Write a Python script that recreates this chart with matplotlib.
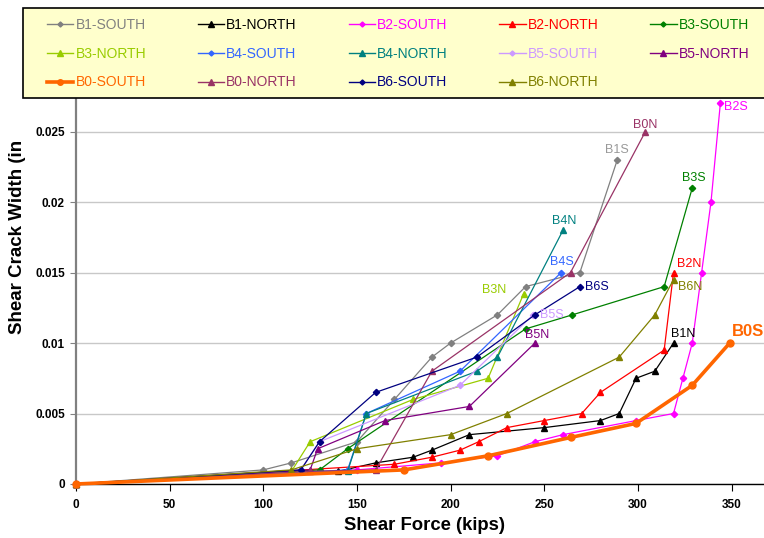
import matplotlib
matplotlib.use("Agg")
import matplotlib.pyplot as plt
from matplotlib.patches import Rectangle

plt.rcParams['font.family'] = ['Liberation Sans', 'DejaVu Sans']

# shear force (kips) and crack width (in) per beam face
b1s_x = [0, 100, 115, 150, 170, 190, 200, 225, 240, 269, 289]
b1s_y = [0, 0.001, 0.0015, 0.003, 0.006, 0.009, 0.010, 0.012, 0.014, 0.015, 0.023]
b1n_x = [0, 140, 160, 180, 190, 210, 250, 280, 290, 299, 309, 319]
b1n_y = [0, 0.0009, 0.0015, 0.0019, 0.0024, 0.0035, 0.0040, 0.0045, 0.0050, 0.0075, 0.0080, 0.0100]
b2s_x = [0, 150, 195, 225, 245, 260, 299, 319, 324, 329, 334, 339, 344]
b2s_y = [0, 0.001, 0.0015, 0.002, 0.003, 0.0035, 0.0045, 0.005, 0.0075, 0.010, 0.015, 0.020, 0.027]
b2n_x = [0, 170, 190, 205, 215, 230, 250, 270, 280, 314, 319]
b2n_y = [0, 0.0014, 0.0019, 0.0024, 0.003, 0.004, 0.0045, 0.005, 0.0065, 0.0095, 0.015]
b3s_x = [0, 130, 145, 240, 265, 314, 329]
b3s_y = [0, 0.001, 0.0025, 0.011, 0.012, 0.014, 0.021]
b3n_x = [0, 115, 125, 180, 220, 239]
b3n_y = [0, 0.0009, 0.003, 0.006, 0.0075, 0.0135]
b4s_x = [0, 145, 155, 205, 259]
b4s_y = [0, 0.001, 0.005, 0.008, 0.015]
b4n_x = [0, 145, 155, 214, 225, 260]
b4n_y = [0, 0.0009, 0.005, 0.008, 0.009, 0.018]
b5s_x = [0, 120, 130, 205, 244]
b5s_y = [0, 0.001, 0.003, 0.007, 0.012]
b5n_x = [0, 125, 129, 165, 210, 245]
b5n_y = [0, 0.001, 0.0025, 0.0045, 0.0055, 0.010]
b0s_x = [0, 175, 220, 264, 299, 329, 349]
b0s_y = [0, 0.001, 0.002, 0.0033, 0.0043, 0.007, 0.010]
b0n_x = [0, 125, 160, 190, 264, 304]
b0n_y = [0, 0.0009, 0.001, 0.008, 0.015, 0.025]
b6s_x = [0, 120, 130, 160, 214, 245, 269]
b6s_y = [0, 0.001, 0.003, 0.0065, 0.009, 0.012, 0.014]
b6n_x = [0, 115, 150, 200, 230, 290, 309, 319]
b6n_y = [0, 0.001, 0.0025, 0.0035, 0.005, 0.009, 0.012, 0.0145]

names = ['B1-SOUTH', 'B1-NORTH', 'B2-SOUTH', 'B2-NORTH', 'B3-SOUTH',
         'B3-NORTH', 'B4-SOUTH', 'B4-NORTH', 'B5-SOUTH', 'B5-NORTH',
         'B0-SOUTH', 'B0-NORTH', 'B6-SOUTH', 'B6-NORTH']
short = ['B1S', 'B1N', 'B2S', 'B2N', 'B3S', 'B3N', 'B4S', 'B4N', 'B5S', 'B5N',
         'B0S', 'B0N', 'B6S', 'B6N']
xs = [b1s_x, b1n_x, b2s_x, b2n_x, b3s_x, b3n_x, b4s_x, b4n_x, b5s_x, b5n_x,
      b0s_x, b0n_x, b6s_x, b6n_x]
ys = [b1s_y, b1n_y, b2s_y, b2n_y, b3s_y, b3n_y, b4s_y, b4n_y, b5s_y, b5n_y,
      b0s_y, b0n_y, b6s_y, b6n_y]
colors = ['#808080', '#000000', '#FF00FF', '#FF0000', '#008000',
          '#99CC00', '#3366FF', '#008080', '#CC99FF', '#800080',
          '#FF6600', '#993366', '#000080', '#808000']
label_colors = list(colors)
label_colors[0] = '#999999'

# end-label placement: (dx px, dy px, ha, va)
label_pos = {
    'B1S': (0, 4, 'center', 'bottom'),
    'B1N': (-3, 3, 'left', 'bottom'),
    'B2S': (4, -4, 'left', 'center'),
    'B2N': (3, 3, 'left', 'bottom'),
    'B3S': (2, 4, 'center', 'bottom'),
    'B3N': (-17, 4, 'right', 'center'),
    'B4S': (1, 5, 'center', 'bottom'),
    'B4N': (1, 3, 'center', 'bottom'),
    'B5S': (7, 0, 'left', 'center'),
    'B5N': (2, 2, 'center', 'bottom'),
    'B0S': (2, 4, 'left', 'bottom'),
    'B0N': (0, 1, 'center', 'bottom'),
    'B6S': (5, 0, 'left', 'center'),
    'B6N': (4, -7, 'left', 'center'),
}

fig = plt.figure(figsize=(7.64, 5.38), dpi=100)
ax = fig.add_axes([76 / 764, 54 / 538, 688 / 764, 386 / 538])

handles = []
for i in range(len(names)):
    tri = names[i].endswith('NORTH')
    if short[i] == 'B0S':
        h, = ax.plot(xs[i], ys[i], color=colors[i], lw=2.6, marker='o', ms=5,
                     label=names[i], zorder=5, clip_on=False)
    else:
        h, = ax.plot(xs[i], ys[i], color=colors[i], lw=0.9,
                     marker='^' if tri else 'D', ms=5 if tri else 3.2,
                     label=names[i], zorder=3, clip_on=False)
    handles.append(h)
    dx, dy, ha, va = label_pos[short[i]]
    bold = short[i] == 'B0S'
    ax.annotate(short[i], (xs[i][-1], ys[i][-1]), xytext=(dx, dy),
                textcoords='offset pixels', ha=ha, va=va,
                color=label_colors[i], fontsize=12 if bold else 9,
                fontweight='bold' if bold else 'normal', zorder=6)

ax.set_xlim(0, 367.3)
ax.set_ylim(0, 0.02738)
ax.set_xticks([0, 50, 100, 150, 200, 250, 300, 350])
ax.set_yticks([0, 0.005, 0.01, 0.015, 0.02, 0.025])
ax.set_yticklabels(['0', '0.005', '0.01', '0.015', '0.02', '0.025'])
for lab in ax.get_xticklabels() + ax.get_yticklabels():
    lab.set_fontweight('bold')
    lab.set_fontsize(8.5)
ax.tick_params(axis='x', direction='out', length=5, color='black', pad=6)
ax.tick_params(axis='y', direction='out', length=4, color='#808080', pad=4)
ax.grid(axis='y', color='#C8C8C8', lw=1)
ax.set_axisbelow(True)
ax.spines['top'].set_visible(False)
ax.spines['right'].set_visible(False)
ax.spines['left'].set_color('#808080')
ax.spines['left'].set_linewidth(1.6)
ax.spines['bottom'].set_color('black')
ax.spines['bottom'].set_linewidth(1)

fig.text(425 / 764, 1 - 525 / 538, 'Shear Force (kips)', ha='center', va='center',
         fontsize=13.3, fontweight='bold')
fig.text(18 / 764, 1 - 237 / 538, 'Shear Crack Width (in', ha='center', va='center',
         rotation=90, fontsize=13.5, fontweight='bold')

# legend box across the top
fig.patches.append(Rectangle((23 / 764, 1 - 98 / 538), 800 / 764, 90 / 538,
                             transform=fig.transFigure, facecolor='#FFFFCC',
                             edgecolor='black', lw=1.2, zorder=10))
order = [0, 5, 10, 1, 6, 11, 2, 7, 12, 3, 8, 13, 4, 9]
leg = fig.legend([handles[k] for k in order], [names[k] for k in order],
                 ncol=5, loc='upper left', bbox_to_anchor=(47 / 764, 1 - 18 / 538),
                 frameon=False, fontsize=10, handlelength=1.9, handletextpad=0.15,
                 labelspacing=1.06, columnspacing=3.72, borderpad=0, borderaxespad=0,
                 markerscale=0.8, labelcolor='linecolor')
leg.set_zorder(11)
for line in leg.get_lines():
    line.set_linewidth(1.0 if line.get_color() != '#FF6600' else 2.6)

fig.savefig('out.png', dpi=100)
